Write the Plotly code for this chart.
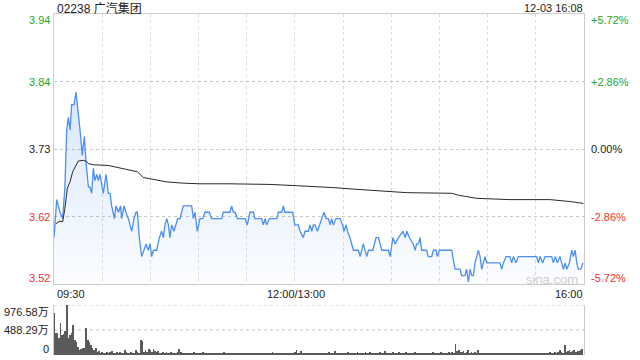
import plotly.graph_objects as go

# ---------------- data ----------------
TITLE = "02238 广汽集团"
STAMP = "12-03 16:08"
PREV_CLOSE = 3.73
PCT_RANGE = 0.0572

# price vertices: minutes since 09:30 (trading minutes, lunch removed) and price
price_time = [0, 1.7, 3.7, 5.4, 6.8, 7.9, 8.9, 10, 11, 12.5, 13.7, 15.1, 16.6, 17.6, 18.9, 19.9,
              21.4, 22.4, 23.5, 24.5, 25.5, 26.6, 27.6, 28.6, 29.7, 30.7, 32.4, 33.8, 34.9, 35.9,
              37.6, 38.6, 40.1, 41.5, 42.1, 43.6, 44.8, 46.3, 48.4, 49.8, 51.1, 51.9, 53.1, 54.6,
              56, 57.3, 58.7, 59.8, 60.8, 61.9, 62.9, 63.9, 65.6, 67, 68.1, 69.1, 70.2, 71.2,
              72.2, 73.3, 74.7, 76, 77, 78.5, 80.5, 85.7, 86.8, 87.8, 89.2, 90.9, 92.6, 94,
              96.7, 98.2, 104.4, 105.4, 108.5,
              109.6, 110.6, 111.7, 112.7, 114.2, 118.9, 120.4, 122, 124.1, 125.1, 129.3, 130.3,
              131.4, 132.4, 134.1, 138.7, 139.7, 141.8, 142.8, 143.8, 148.6, 150, 152.1, 153.2,
              155.2, 156.3, 158.4, 159.4, 160.5, 161.5, 162.5, 164, 165.2, 166.7, 168.1, 169.4,
              170.8, 171.9, 172.9, 173.9, 175.6, 178.1, 179.7, 180.6, 181.8, 182.7, 184.3, 186.4,
              189.5, 190.6, 192.6, 194.7, 195.8, 198.5, 200.5, 202, 204.1, 208.2, 209.3, 211,
              212.4, 214.5, 217.2, 218.7, 219.7, 221.2,
              223.7, 224.8, 225.8, 226.9, 227.9, 228.9, 232, 233, 235.2, 236.2, 237.9, 238.7,
              240, 247.6, 249.7, 252.8, 253.8, 255.9, 256.9, 258, 259, 260.1, 261.1, 262.1,
              263.2, 264.2, 265.3, 266.3, 267.3, 268.4, 269.4, 270.5, 277.7, 278.8, 279.8, 281.5,
              283.9, 285, 286, 287.7, 289.1, 300.5, 301.6, 302.6, 304.3, 305.7, 309.9, 310.9,
              312.2, 313.4, 315.1, 316.1, 317.2, 318.2, 319.3, 320.9, 322.4, 323.4, 324.5, 325.5,
              326.5, 328, 329.3]
price = [3.59, 3.65, 3.63, 3.62, 3.67, 3.76, 3.78, 3.76, 3.80, 3.80, 3.82, 3.79, 3.75, 3.72, 3.75, 3.71,
         3.67, 3.67, 3.66, 3.70, 3.68, 3.69, 3.68, 3.69, 3.67, 3.66, 3.69, 3.66, 3.66, 3.64,
         3.62, 3.64, 3.63, 3.64, 3.62, 3.64, 3.63, 3.62, 3.60, 3.62, 3.63, 3.63, 3.59, 3.56,
         3.57, 3.58, 3.57, 3.58, 3.56, 3.57, 3.57, 3.57, 3.59, 3.60, 3.59, 3.61, 3.62, 3.61,
         3.59, 3.61, 3.60, 3.61, 3.62, 3.62, 3.64, 3.64, 3.62, 3.63, 3.60, 3.62, 3.62, 3.63,
         3.63, 3.62, 3.62, 3.63, 3.63,
         3.63, 3.64, 3.63, 3.63, 3.62, 3.62, 3.61, 3.63, 3.63, 3.62, 3.62, 3.61,
         3.62, 3.61, 3.62, 3.62, 3.63, 3.63, 3.64, 3.63, 3.63, 3.61, 3.61, 3.60,
         3.59, 3.60, 3.60, 3.61, 3.60, 3.61, 3.61, 3.60, 3.61, 3.62, 3.63, 3.62,
         3.62, 3.61, 3.62, 3.61, 3.62, 3.62, 3.61, 3.60, 3.61, 3.60, 3.59, 3.57,
         3.57, 3.56, 3.58, 3.56, 3.57, 3.57, 3.59, 3.59, 3.57, 3.57, 3.56, 3.59,
         3.58, 3.59, 3.60, 3.59, 3.60, 3.59,
         3.58, 3.57, 3.58, 3.58, 3.59, 3.57, 3.57, 3.56, 3.56, 3.57, 3.57, 3.56,
         3.57, 3.57, 3.54, 3.54, 3.53, 3.53, 3.54, 3.52, 3.54, 3.53, 3.53, 3.55,
         3.56, 3.57, 3.56, 3.54, 3.55, 3.56, 3.55, 3.55, 3.55, 3.54, 3.55, 3.56,
         3.56, 3.55, 3.56, 3.55, 3.56, 3.56, 3.55, 3.56, 3.55, 3.56, 3.56, 3.55,
         3.56, 3.55, 3.56, 3.55, 3.54, 3.55, 3.54, 3.55, 3.57, 3.56, 3.57, 3.55,
         3.54, 3.54, 3.55]

avg_time = [1.2, 3.7, 5.4, 6.8, 8.3, 10, 11.6, 13.1, 15.1, 18.3, 19.9, 21.4, 24.5, 33.8, 39, 47.3,
            51.9, 55.6, 59.8, 63.9, 70.2, 80.5, 90.9, 109.6, 134.5, 151.1, 163.5, 173.9, 184.3,
            190.5, 205, 219.6, 247.6, 251.8, 263.2, 283.9, 308.8, 315.1, 321.3, 329.6]
avg_price = [3.612, 3.616, 3.615, 3.636, 3.668, 3.678, 3.694, 3.702, 3.711, 3.712, 3.711, 3.707,
             3.705, 3.704, 3.701, 3.697, 3.694, 3.685, 3.683, 3.680, 3.678, 3.676, 3.675, 3.675,
             3.674, 3.672, 3.671, 3.669, 3.667, 3.666, 3.664, 3.661, 3.660, 3.657, 3.652, 3.650,
             3.650, 3.649, 3.647, 3.644]

# volume per minute (万股), minute 0..329
volume = [814, 424, 437, 326, 619, 391, 420, 476, 976, 330,
          390, 430, 586, 293, 260, 163, 98, 110, 130, 130,
          521, 293, 260, 195, 130, 98, 130, 65, 80, 45,
          55, 30, 40, 60, 35, 50, 70, 45, 30, 65,
          40, 55, 35, 45, 90, 60, 40, 35, 55, 30,
          45, 100, 60, 40, 300, 270, 50, 90, 60, 110,
          95, 65, 120, 80, 55, 70, 45, 40, 60, 35,
          50, 45, 30, 55, 40, 35, 45, 60, 117, 50,
          35, 30, 45, 25, 40, 30, 35, 50, 25, 45,
          30, 40, 25, 55, 35, 30, 20, 45, 30, 35,
          40, 25, 30, 45, 20, 35, 50, 30, 25, 40,
          30, 20, 35, 45, 25, 30, 40, 20, 35, 30,
          45, 25, 30, 20, 40, 35, 25, 30, 45, 20,
          35, 30, 25, 40, 20, 30, 50, 25, 35, 30,
          20, 40, 30, 25, 35, 45, 20, 30, 25, 40,
          60, 100, 45, 30, 70, 25, 40, 30, 35, 20,
          45, 30, 25, 40, 35, 20, 30, 45, 25, 35,
          30, 55, 25, 40, 30, 70, 35, 25, 45, 30,
          40, 25, 35, 60, 30, 45, 25, 40, 30, 55,
          35, 45, 30, 25, 65, 40, 30, 50, 35, 25,
          45, 30, 40, 55, 25, 35, 70, 30, 40, 45,
          30, 55, 25, 40, 35, 60, 30, 45, 25, 50,
          35, 30, 45, 25, 40, 55, 30, 35, 20, 45,
          30, 40, 25, 35, 45, 30, 60, 25, 40, 30,
          35, 50, 25, 40, 30, 45, 55, 30, 60, 40,
          215, 70, 90, 55, 60, 80, 45, 65, 90, 40,
          50, 35, 60, 45, 100, 40, 30, 45, 35, 25,
          40, 30, 45, 25, 35, 30, 40, 20, 35, 30,
          25, 40, 30, 35, 20, 45, 30, 25, 40, 30,
          35, 25, 45, 30, 20, 35, 40, 25, 30, 45,
          30, 40, 25, 35, 45, 30, 25, 40, 35, 50,
          30, 45, 60, 40, 55, 95, 50, 45, 190, 60,
          70, 90, 55, 80, 95, 60, 85, 75, 90, 110]
vol_minutes = list(range(len(volume)))
VOL_MAX = 976.58

price_labels = ["3.94", "3.84", "3.73", "3.62", "3.52"]
pct_labels = ["+5.72%", "+2.86%", "0.00%", "-2.86%", "-5.72%"]
vol_labels = ["976.58万", "488.29万", "0"]
time_labels = ["09:30", "12:00/13:00", "16:00"]
TOTAL_MIN = 330
grid_minutes = [30, 60, 90, 120, 150, 180, 210, 240, 270, 300]

# ---------------- styling / layout ----------------
W, H = 640, 360
L, R, T, B = 54, 56, 14, 5
PLOT_BOTTOM = H - B
FONT = "Liberation Sans, Arial, Noto Sans CJK SC, sans-serif"
GREEN, RED, BLACK = "#1fa51f", "#f23030", "#222222"


def px_x(px):
    return (px - L) / (W - L - R)


def px_y(py):
    return (PLOT_BOTTOM - py) / (PLOT_BOTTOM - T)


y_lo = PREV_CLOSE * (1 - PCT_RANGE)
y_hi = PREV_CLOSE * (1 + PCT_RANGE)
quart = [y_lo + (y_hi - y_lo) * k / 4 for k in (1, 2, 3)]

fig = go.Figure()

fig.add_trace(go.Scatter(
    x=price_time, y=price, mode="lines",
    line=dict(color="#4c8ff0", width=1.3),
    fill="tozeroy",
    fillgradient=dict(type="vertical", start=y_lo, stop=max(price),
                      colorscale=[[0, "rgba(76,143,240,0.02)"], [1, "rgba(76,143,240,0.22)"]]),
    xaxis="x", yaxis="y", hoverinfo="skip"))

fig.add_trace(go.Scatter(
    x=avg_time, y=avg_price, mode="lines",
    line=dict(color="#2a2a2a", width=1),
    xaxis="x", yaxis="y", hoverinfo="skip"))

fig.add_trace(go.Bar(
    x=vol_minutes, y=volume, width=0.5,
    marker=dict(color="#5a5a5a", line=dict(width=0)),
    xaxis="x2", yaxis="y2", hoverinfo="skip"))

main_bottom = px_y(284)
vol_top = px_y(305)

fig.update_layout(
    width=W, height=H,
    margin=dict(l=L, r=R, t=T, b=B, pad=0),
    paper_bgcolor="white", plot_bgcolor="white",
    showlegend=False, hovermode=False, bargap=0,
    font=dict(family=FONT, size=11, color=BLACK),
    xaxis=dict(domain=[0, 1], range=[0, TOTAL_MIN], anchor="y",
               tickvals=grid_minutes, showticklabels=False, ticks="",
               showgrid=True, gridcolor="#dadada", griddash="dot", gridwidth=1,
               showline=True, mirror=True, linecolor="#cccccc", linewidth=1,
               zeroline=False, fixedrange=True),
    yaxis=dict(domain=[main_bottom, 1], range=[y_lo, y_hi], anchor="x",
               tickvals=quart, showticklabels=False, ticks="",
               showgrid=True, gridcolor="#c8c8c8", griddash="dot", gridwidth=1,
               showline=True, mirror=True, linecolor="#cccccc", linewidth=1,
               zeroline=False, fixedrange=True),
    xaxis2=dict(domain=[0, 1], range=[0, TOTAL_MIN], anchor="y2",
                showticklabels=False, ticks="", showgrid=False, showline=False,
                zeroline=False, fixedrange=True),
    yaxis2=dict(domain=[0, vol_top], range=[0, VOL_MAX], anchor="x2",
                showticklabels=False, ticks="", showgrid=False,
                showline=True, mirror=True, linecolor="#cccccc", linewidth=1,
                zeroline=False, fixedrange=True),
)

# volume dotted guides
for v in (VOL_MAX, VOL_MAX / 2):
    fig.add_shape(type="line", xref="x2 domain", yref="y2", x0=0, x1=1, y0=v, y1=v,
                  line=dict(color="#c4c4c4", width=1, dash="dot"), layer="below")

ann = []


def add_text(text, px, py, anchor, color=BLACK, size=11):
    ann.append(dict(text=text, x=px_x(px), y=px_y(py), xref="paper", yref="paper",
                    xanchor=anchor, yanchor="middle", showarrow=False,
                    font=dict(family=FONT, size=size, color=color)))


add_text(TITLE, 55, 8, "left", BLACK, 12)
add_text(STAMP, 585, 8, "right", BLACK, 11)

label_py = [20.5, 82, 149, 217, 277.5]
label_col = [GREEN, GREEN, BLACK, RED, RED]
for t, py, c in zip(price_labels, label_py, label_col):
    add_text(t, 51.5, py, "right", c)
for t, py, c in zip(pct_labels, label_py, label_col):
    add_text(t, 589, py, "left", c)

add_text(time_labels[0], 54.5, 293.5, "left")
add_text(time_labels[1], 296, 293.5, "center")
add_text(time_labels[2], 585, 293.5, "right")

for t, py in zip(vol_labels, [312, 330, 348.5]):
    add_text(t, 50.5, py, "right")

add_text("sina.com", 552, 279, "center", "#cfcfcf", 13)

fig.update_layout(annotations=ann)

fig.write_html("out.html")
